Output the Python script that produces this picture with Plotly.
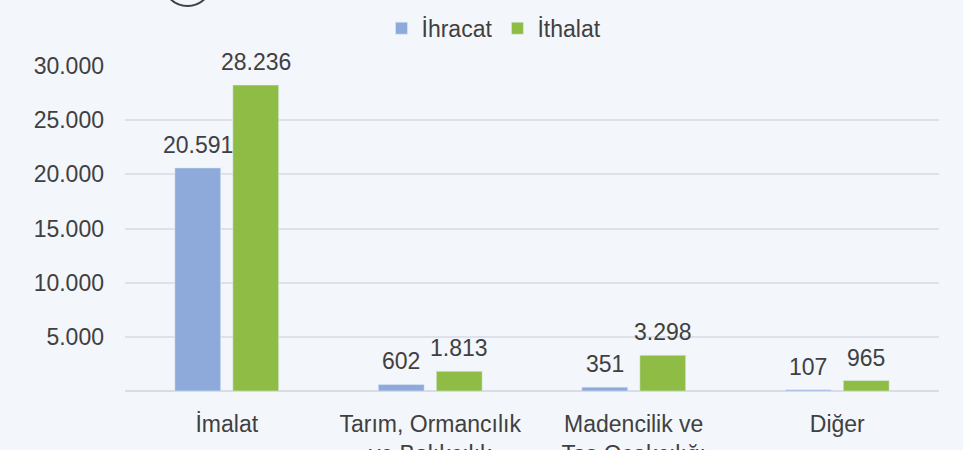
import plotly.graph_objs as go

categories = ["İmalat", "Tarım, Ormancılık<br>ve Balıkçılık", "Madencilik ve<br>Taş Ocakçılığı", "Diğer"]
ihracat = [20591, 602, 351, 107]
ithalat = [28236, 1813, 3298, 965]
y_ticks = [5000, 10000, 15000, 20000, 25000, 30000]

font_family = "Liberation Sans, Arial, sans-serif"
text_color = "#404040"


def fmt(v):
    # Turkish thousands separator
    return "{:,}".format(v).replace(",", ".")


trace1 = go.Bar(
    name="İhracat",
    x=categories,
    y=ihracat,
    marker=dict(color="#8eaadb"),
)
trace2 = go.Bar(
    name="İthalat",
    x=categories,
    y=ithalat,
    marker=dict(color="#8fbc45"),
)

# value labels, a bit higher above the bars than plotly's own outside text
annotations = []
for series, shift in ((ihracat, -29), (ithalat, 29)):
    for cat, val in zip(categories, series):
        annotations.append(dict(
            x=cat,
            y=val,
            xref="x",
            yref="y",
            text=fmt(val),
            showarrow=False,
            xshift=shift,
            yshift=8,
            yanchor="bottom",
            font=dict(size=23, color=text_color, family=font_family),
        ))

layout = go.Layout(
    width=963,
    height=450,
    paper_bgcolor="#f3f6fb",
    plot_bgcolor="#f3f6fb",
    margin=dict(l=125, r=24, t=66, b=59, autoexpand=False),
    separators=",.",
    font=dict(family=font_family, size=23, color=text_color),
    barmode="group",
    bargap=0.43,
    bargroupgap=0.21,
    showlegend=True,
    legend=dict(
        orientation="h",
        xref="container",
        x=0.513,
        xanchor="center",
        yref="container",
        y=0.985,
        yanchor="top",
        font=dict(size=23, color=text_color),
        bgcolor="rgba(0,0,0,0)",
        itemwidth=30,
        traceorder="normal",
    ),
    xaxis=dict(
        automargin=False,
        showgrid=False,
        showline=False,
        ticks="",
        ticklabelstandoff=17,
        tickfont=dict(size=23, color=text_color),
    ),
    yaxis=dict(
        automargin=False,
        range=[0, 30000],
        tickvals=y_ticks,
        tickformat=",",
        showgrid=True,
        gridcolor="#dde2ea",
        gridwidth=2,
        zeroline=True,
        zerolinecolor="#d9dce3",
        zerolinewidth=2,
        showline=False,
        ticks="",
        ticklabelstandoff=20,
        tickfont=dict(size=23, color=text_color),
    ),
    annotations=annotations,
    shapes=[
        dict(
            type="circle",
            xref="paper",
            yref="paper",
            x0=(163 - 125) / 814,
            x1=(212 - 125) / 814,
            y0=(391 - 6) / 325,
            y1=(391 + 43) / 325,
            line=dict(color="#404040", width=2),
        )
    ],
)

fig = go.Figure(data=[trace1, trace2], layout=layout)
fig.write_html(
    "out.html",
    config={"displayModeBar": False},
    post_script="document.body.style.margin='0';",
)
